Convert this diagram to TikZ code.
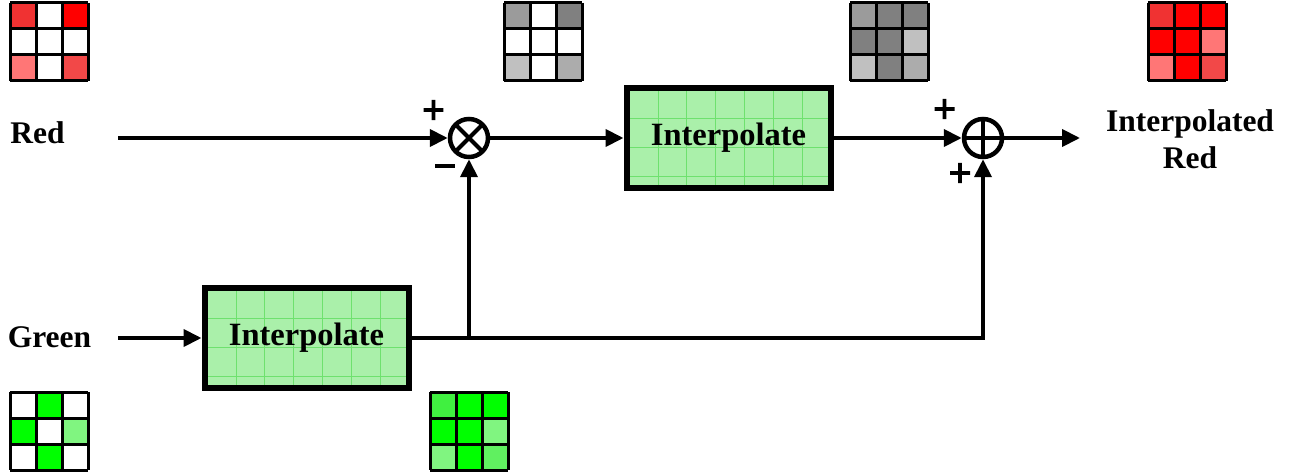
\documentclass[tikz,border=0pt]{standalone}
\usepackage{fontspec}
\setmainfont{Liberation Serif}
\newfontfamily\signfont[FakeBold=4]{DejaVu Sans}
\usetikzlibrary{arrows.meta,calc}

% pixel colours
\definecolor{rFull}{RGB}{255,0,0}
\definecolor{rMid}{RGB}{240,50,50}
\definecolor{rMidB}{RGB}{242,72,72}
\definecolor{rLight}{RGB}{255,118,118}
\definecolor{gyDark}{RGB}{128,128,128}
\definecolor{gyMid}{RGB}{155,155,155}
\definecolor{gyMidB}{RGB}{172,172,172}
\definecolor{gyLight}{RGB}{192,192,192}
\definecolor{gnFull}{RGB}{0,255,0}
\definecolor{gnMid}{RGB}{64,240,64}
\definecolor{gnMidB}{RGB}{96,240,96}
\definecolor{gnLight}{RGB}{128,245,128}
\definecolor{boxfill}{RGB}{170,240,170}
\definecolor{boxgrid}{RGB}{110,225,110}

% 3x3 pixel patch: top-left corner, then nine colours row by row
\newcommand\pixgrid[3]{%
  \foreach \c [count=\k from 0] in {#3} {
    \pgfmathtruncatemacro\cc{mod(\k,3)}
    \pgfmathtruncatemacro\rr{(\k-\cc)/3}
    \fill[\c] ($(#1,#2)+(\cc*26,\rr*26)$) rectangle +(26,26);
  }
  \foreach \i in {0,1,2,3} {
    \draw[line width=3pt] ($(#1,#2)+(\i*26,0)$) -- +(0,78);
    \draw[line width=3pt] ($(#1,#2)+(0,\i*26)$) -- +(78,0);
  }
}

\tikzset{
  lbl/.style={font=\fontsize{31.5}{37}\selectfont\bfseries},
  sign/.style={font=\fontsize{30}{30}\selectfont\signfont, inner sep=0pt},
  wire/.style={line width=4pt},
  arr/.style={wire, -{Triangle[length=18pt,width=17pt]}},
  gl/.style={draw=boxgrid, line width=0.8pt},
  ipbox/.style={draw, line width=6pt, fill=boxfill, minimum width=204pt,
    minimum height=100pt, inner sep=0pt,
    font=\fontsize{32.5}{37}\selectfont\bfseries,
    path picture={
      \foreach \i in {0,...,5}
        \draw[gl] ([xshift={31.5pt+\i*28.8pt}]path picture bounding box.north west)
          -- ([xshift={31.5pt+\i*28.8pt}]path picture bounding box.south west);
      \foreach \j in {0,1,2}
        \draw[gl] ([yshift={-30pt-\j*29pt}]path picture bounding box.north west)
          -- ([yshift={-30pt-\j*29pt}]path picture bounding box.north east);
    }},
  junc/.style={draw, circle, line width=4.5pt, minimum size=38pt, inner sep=0pt},
  mulop/.style={junc, path picture={
      \draw[line width=4pt] (path picture bounding box.center) +(45:20) -- +(225:20)
        (path picture bounding box.center) +(135:20) -- +(315:20);}},
  addop/.style={junc, path picture={
      \draw[line width=4pt] (path picture bounding box.center) +(0:20) -- +(180:20)
        (path picture bounding box.center) +(90:20) -- +(270:20);}},
}

\begin{document}
\begin{tikzpicture}[x=1pt, y=-1pt]
\useasboundingbox (0,0) rectangle (1289,473);

% pixel patches
\pixgrid{10}{3}{rMid,white,rFull, white,white,white, rLight,white,rMidB}
\pixgrid{504}{3}{gyMid,white,gyDark, white,white,white, gyLight,white,gyMidB}
\pixgrid{850}{3}{gyMid,gyDark,gyDark, gyDark,gyDark,gyLight, gyLight,gyDark,gyMidB}
\pixgrid{1148}{3}{rMid,rFull,rFull, rFull,rFull,rLight, rLight,rFull,rMidB}
\pixgrid{10}{392}{white,gnFull,white, gnFull,white,gnLight, white,gnFull,white}
\pixgrid{430}{392}{gnMid,gnFull,gnFull, gnFull,gnFull,gnLight, gnLight,gnFull,gnMidB}

% labels
\node[lbl, anchor=base] (rlab) at (37.5,144) {Red};
\node[lbl, anchor=base] (glab) at (49.5,347) {Green};
\node[lbl, align=center] (out) at (1190,139) {Interpolated\\Red};

% blocks and operators
\node[ipbox] (ip1) at (728.5,138) {Interpolate};
\node[ipbox] (ip2) at (306.5,338) {Interpolate};
\node[mulop] (mul) at (469,138) {};
\node[addop] (sum) at (983,138) {};

% signs
\node[sign] (p1) at (433.5,110) {+};
\node[sign] (m1) at (445,170) {−};
\node[sign] (p2) at (944.5,109) {+};
\node[sign] (p3) at (960,173) {+};

% wiring
\coordinate (rin) at (118,138);
\coordinate (gin) at (118,338);
\coordinate (tap) at (469,338);
\coordinate (rout) at (1080,138);

\draw[arr] (rin) -- (mul);
\draw[arr] (mul) -- (ip1);
\draw[arr] (ip1) -- (sum);
\draw[arr] (sum) -- (rout);
\draw[arr] (gin) -- (ip2);
\draw[wire] (ip2.east) -- (tap);
\draw[arr] (tap) -- (mul);
\draw[arr] (ip2.east) -| (sum);
\end{tikzpicture}
\end{document}
